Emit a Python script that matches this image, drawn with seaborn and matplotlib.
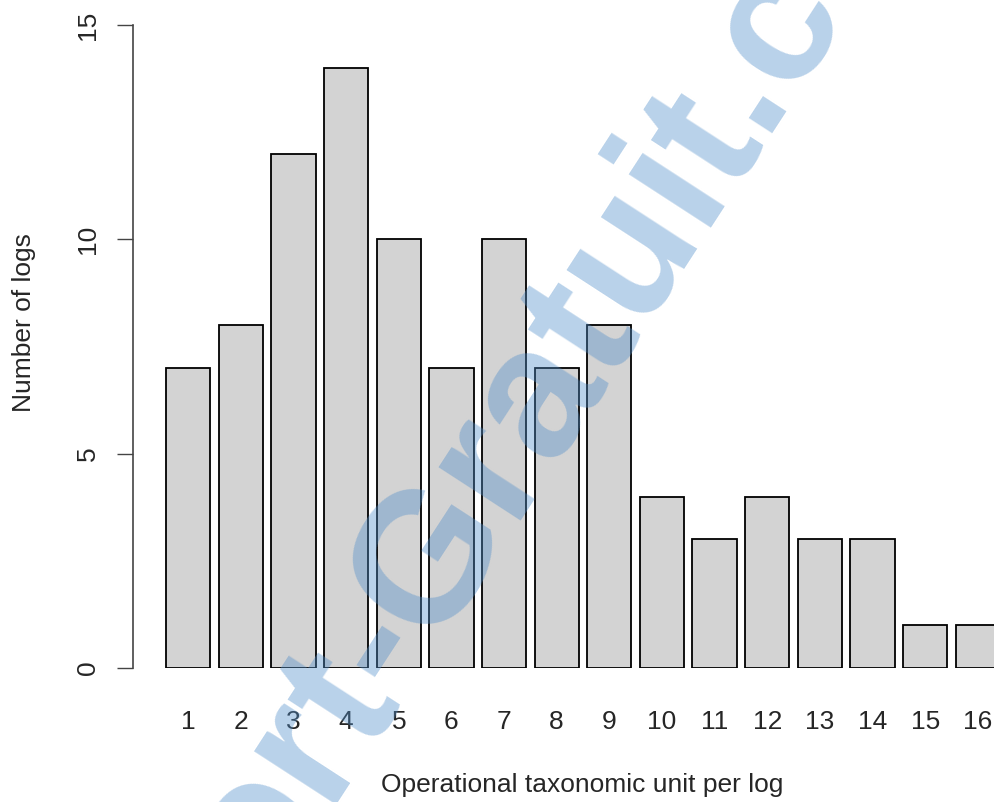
import matplotlib
matplotlib.use("Agg")
import matplotlib.pyplot as plt
import seaborn as sns
import pandas as pd

# OTUs per log -> number of logs
otu_per_log = [str(i) for i in range(1, 17)]
n_logs = [7, 8, 12, 14, 10, 7, 10, 7, 8, 4, 3, 4, 3, 3, 1, 1]
y_ticks = [0, 5, 10, 15]

sns.set_style("white")
plt.rcParams['font.family'] = ['Liberation Sans', 'DejaVu Sans']

df = pd.DataFrame({'otu': otu_per_log, 'logs': n_logs})

fig = plt.figure(figsize=(9.95, 8.02), dpi=100)
ax = fig.add_axes([133 / 995, 134 / 802, 862 / 995, 643 / 802])

sns.barplot(data=df, x='otu', y='logs', color='#d3d3d3', saturation=1,
            edgecolor='black', linewidth=1.3, width=0.84, ax=ax)

ax.set_xlim(-1.049, 15.327)
ax.set_ylim(0, 15)

for s in ['top', 'right', 'bottom']:
    ax.spines[s].set_visible(False)
ax.spines['left'].set_color('#444444')
ax.spines['left'].set_linewidth(1.2)
ax.spines['left'].set_bounds(0, 15)

ax.set_yticks(y_ticks)
ax.set_yticklabels([str(v) for v in y_ticks], rotation=90, va='center')
ax.tick_params(axis='y', length=11.5, width=1.0, color='#444444', pad=12,
               labelsize=19, left=True)
ax.tick_params(axis='x', length=0, pad=30.5, labelsize=19)

ax.set_xlabel('Operational taxonomic unit per log', fontsize=19, va='center')
ax.xaxis.set_label_coords(0.521, -0.182)
ax.set_ylabel('Number of logs', fontsize=19, va='center')
ax.yaxis.set_label_coords(-0.1265, 0.538)

# watermark
fig.text(0.0116, -0.6035, 'Rapport-Gratuit.com', rotation=57,
         rotation_mode='anchor', ha='left', va='baseline', fontsize=133,
         fontweight='bold', color=(80 / 255, 142 / 255, 202 / 255), alpha=0.4,
         zorder=10)

fig.savefig('out.png', dpi=100)
